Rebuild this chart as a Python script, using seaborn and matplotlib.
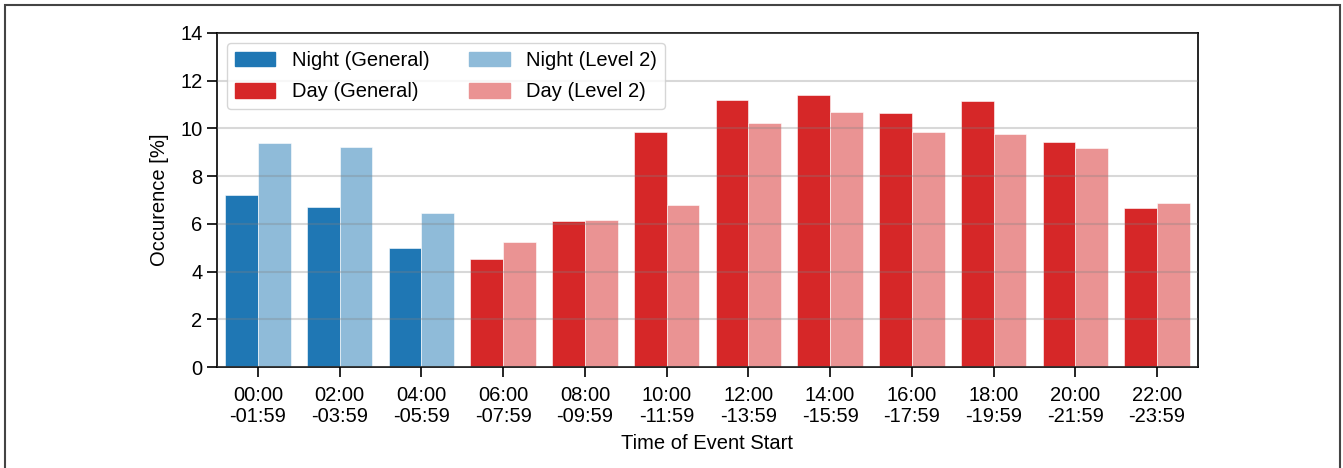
import pandas as pd
import matplotlib.pyplot as plt
import seaborn as sns
from matplotlib.patches import Patch, Rectangle

# data
time_labels = ["00:00\n-01:59", "02:00\n-03:59", "04:00\n-05:59", "06:00\n-07:59",
               "08:00\n-09:59", "10:00\n-11:59", "12:00\n-13:59", "14:00\n-15:59",
               "16:00\n-17:59", "18:00\n-19:59", "20:00\n-21:59", "22:00\n-23:59"]
general = [7.20, 6.69, 4.99, 4.51, 6.13, 9.83, 11.20, 11.41, 10.64, 11.14, 9.42, 6.66]
level2 = [9.41, 9.21, 6.46, 5.24, 6.16, 6.80, 10.24, 10.67, 9.85, 9.75, 9.16, 6.89]
is_night = [True, True, True, False, False, False, False, False, False, False, False, False]

blue = "#1f77b4"
light_blue = "#8fbbd9"
red = "#d62728"
light_red = "#ea9393"

plt.rcParams['font.family'] = ['Liberation Sans', 'DejaVu Sans']
fs = 14.5

rows = []
for t, g, l, n in zip(time_labels, general, level2, is_night):
    rows.append({"time": t, "value": g, "kind": "General", "night": n})
    rows.append({"time": t, "value": l, "kind": "Level 2", "night": n})
df = pd.DataFrame(rows)

fig, ax = plt.subplots(figsize=(13.43, 4.68), dpi=100)
fig.subplots_adjust(left=0.1616, right=0.892, top=0.9295, bottom=0.2158)

sns.barplot(data=df[df["night"]], x="time", y="value", hue="kind",
            order=time_labels, hue_order=["General", "Level 2"],
            palette=[blue, light_blue], width=0.8, saturation=1, legend=False,
            edgecolor="white", linewidth=0.4, ax=ax)
sns.barplot(data=df[~df["night"]], x="time", y="value", hue="kind",
            order=time_labels, hue_order=["General", "Level 2"],
            palette=[red, light_red], width=0.8, saturation=1, legend=False,
            edgecolor="white", linewidth=0.4, ax=ax)

ax.set_ylim(0, 14)
ax.set_yticks(range(0, 15, 2))
ax.set_xlim(-0.5, 11.5)
ax.set_xticks(range(len(time_labels)))
ax.set_xticklabels(time_labels, linespacing=1.15)
ax.set_xlabel("Time of Event Start", fontsize=fs, labelpad=6)
ax.set_ylabel("Occurence [%]", fontsize=fs, labelpad=8)
ax.grid(axis="y", color="gray", alpha=0.3, linewidth=1.5)
ax.set_axisbelow(False)
ax.tick_params(axis="both", direction="out", length=7, width=1.2, labelsize=fs)
ax.tick_params(axis="x", pad=6.5)
for s in ax.spines.values():
    s.set_linewidth(1.2)

handles = [Patch(color=blue), Patch(color=red), Patch(color=light_blue), Patch(color=light_red)]
labels = ["Night (General)", "Day (General)", "Night (Level 2)", "Day (Level 2)"]
ax.legend(handles, labels, ncol=2, loc="upper left", fontsize=fs,
          handlelength=2.0, handleheight=0.75, columnspacing=2.0,
          labelspacing=0.6, borderaxespad=0.5, framealpha=0.8)

# outer frame around the figure
fig.patches.append(Rectangle((5 / 1343, -0.02), 1335 / 1343, 1 - 5 / 468 + 0.02,
                             transform=fig.transFigure, fill=False,
                             edgecolor="#444444", linewidth=1.5))

fig.savefig("out.png", dpi=100)
